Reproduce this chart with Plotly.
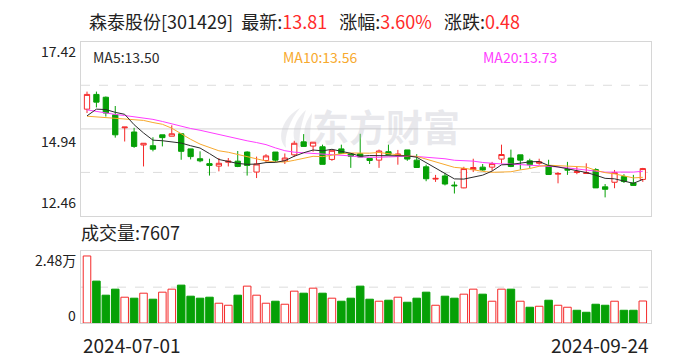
import plotly.graph_objects as go
import pandas as pd

# ---------------- data ----------------
stock_name = "森泰股份"
stock_code = "301429"
date_labels = ["2024-07-01", "2024-09-24"]

opens = [15.50, 15.92, 15.84, 15.34, 14.97, 14.85, 14.48, 14.46, 14.77, 14.73,
         14.80, 14.37, 14.09, 13.95, 13.88, 13.99, 14.02, 14.28, 13.71, 14.04,
         14.28, 14.03, 14.20, 14.57, 14.45, 14.43, 14.07, 14.37, 14.23, 14.23,
         14.10, 14.05, 14.29, 14.19, 14.34, 14.05, 13.86, 13.51, 13.60, 13.34,
         13.26, 13.78, 13.85, 13.85, 14.08, 14.11, 14.20, 14.03, 13.96, 13.89,
         13.65, 13.78, 13.70, 13.67, 13.78, 13.29, 13.42, 13.58, 13.40, 13.50]
highs = [16.00, 16.00, 15.86, 15.59, 14.99, 14.97, 14.53, 14.70, 14.77, 15.04,
         14.80, 14.37, 14.30, 14.09, 14.11, 14.11, 14.31, 14.30, 14.15, 14.22,
         14.28, 14.24, 14.60, 14.79, 14.56, 14.49, 14.33, 14.49, 14.23, 14.80,
         14.10, 14.35, 14.49, 14.34, 14.34, 14.22, 13.92, 13.63, 13.68, 13.44,
         13.86, 14.09, 13.94, 14.00, 14.49, 14.35, 14.20, 14.09, 14.09, 14.06,
         13.71, 14.00, 13.86, 13.96, 13.82, 13.37, 13.77, 13.65, 13.63, 13.83]
lows = [15.39, 15.55, 15.29, 14.69, 14.58, 14.40, 13.87, 14.30, 14.44, 14.73,
        14.06, 14.07, 13.99, 13.61, 13.73, 13.87, 13.85, 13.61, 13.54, 13.99,
        13.99, 13.94, 14.14, 14.44, 14.29, 13.93, 14.03, 14.24, 13.83, 14.14,
        13.94, 13.83, 14.21, 13.92, 14.03, 13.84, 13.45, 13.43, 13.33, 13.10,
        13.25, 13.71, 13.75, 13.75, 13.95, 13.85, 13.78, 13.83, 13.92, 13.64,
        13.39, 13.63, 13.65, 13.68, 13.26, 12.99, 13.25, 13.40, 13.33, 13.43]
closes = [15.92, 15.70, 15.39, 14.77, 14.99, 14.44, 14.53, 14.36, 14.69, 14.80,
          14.30, 14.15, 14.03, 13.90, 13.96, 14.02, 13.87, 13.90, 13.94, 14.17,
          14.05, 14.11, 14.53, 14.44, 14.56, 13.93, 14.33, 14.24, 14.16, 14.14,
          14.04, 14.31, 14.21, 14.22, 14.08, 13.84, 13.52, 13.53, 13.37, 13.32,
          13.81, 13.84, 13.77, 13.95, 14.21, 13.87, 14.05, 13.92, 14.00, 13.64,
          13.67, 13.77, 13.72, 13.69, 13.26, 13.22, 13.70, 13.44, 13.33, 13.81]
volumes = [23180, 14490, 9620, 11700, 8920, 8580, 10310, 8230, 10660, 11700,
           13100, 9270, 8580, 8920, 6840, 6140, 9620, 12750, 9620, 6840,
           7530, 6490, 11010, 10310, 12050, 10310, 8580, 7530, 8580, 12750,
           8230, 7530, 7880, 8920, 7180, 8580, 10660, 6140, 9270, 8580,
           9970, 11700, 9970, 7530, 11700, 11700, 7530, 5450, 5790, 7880,
           6140, 5450, 4400, 3710, 6490, 6140, 7530, 4400, 4400, 7607]
ma5_head = [15.31, 15.50, 15.49, 15.41]
ma10_head = [15.30, 15.28, 15.26, 15.24, 15.22, 15.20, 15.18, 15.12, 15.07]
ma20_head = [15.48, 15.43, 15.39, 15.35, 15.32, 15.29, 15.25, 15.21, 15.15, 15.08,
             15.01, 14.95, 14.90, 14.84, 14.77, 14.70, 14.65, 14.60, 14.55]
price_range = [12.46, 17.42]
vol_max = 24800

# ---------------- derived ----------------
n = len(closes)
idx = list(range(n))
cs = pd.Series(closes)


def ma(win, head):
    r = cs.rolling(win).mean().tolist()
    return head + r[len(head):]


ma5 = ma(5, ma5_head)
ma10 = ma(10, ma10_head)
ma20 = ma(20, ma20_head)

RED = "#f52a2a"
GREEN = "#06a006"
C_MA5 = "#2b2b2b"
C_MA10 = "#f7a92e"
C_MA20 = "#ff3cff"
BORDER = "#d6d6d6"
FONT = "Microsoft YaHei, Noto Sans CJK SC, sans-serif"
W, H = 688, 360

vol_up = [True] + [closes[i] >= closes[i - 1] for i in range(1, n)]
vol_fill = ["white" if u else GREEN for u in vol_up]
vol_line = [RED if u else GREEN for u in vol_up]

fig = go.Figure()
fig.add_trace(go.Candlestick(
    x=idx, open=opens, high=highs, low=lows, close=closes,
    increasing=dict(line=dict(color=RED, width=1), fillcolor="white"),
    decreasing=dict(line=dict(color=GREEN, width=1), fillcolor=GREEN),
    whiskerwidth=0, xaxis="x", yaxis="y", hoverinfo="skip", showlegend=False))
for vals, col in [(ma20, C_MA20), (ma10, C_MA10), (ma5, C_MA5)]:
    fig.add_trace(go.Scatter(x=idx, y=vals, mode="lines",
                             line=dict(color=col, width=1),
                             xaxis="x", yaxis="y", hoverinfo="skip", showlegend=False))
fig.add_trace(go.Bar(x=idx, y=volumes, width=0.8,
                     marker=dict(color=vol_fill, line=dict(color=vol_line, width=1)),
                     xaxis="x2", yaxis="y2", hoverinfo="skip", showlegend=False))

xdom = [81 / W, 651 / W]
xr = [-0.637, n - 1 + 0.87]

axis_common = dict(showgrid=False, zeroline=False, showticklabels=False, ticks="",
                   showline=True, linecolor=BORDER, linewidth=1, mirror=True, fixedrange=True)

shapes = []
lo, hi = price_range
step = (hi - lo) / 4
for k in (1, 2, 3):
    shapes.append(dict(type="line", xref="x domain", yref="y", x0=0, x1=1,
                       y0=lo + k * step, y1=lo + k * step, layer="below",
                       line=dict(color="#dcdcdc", width=1.2 if k == 2 else 1,
                                 dash="solid" if k == 2 else "dash")))
shapes.append(dict(type="line", xref="x2 domain", yref="y2", x0=0, x1=1,
                   y0=vol_max / 2, y1=vol_max / 2, layer="below",
                   line=dict(color="#dcdcdc", width=1, dash="dash")))


# watermark logo (decorative swoosh), drawn in pixel space then mapped to paper
def px_path(pts):
    s = ""
    for cmd, coords in pts:
        s += cmd + " ".join(f"{x / W:.5f},{1 - y / H:.5f}" for x, y in coords) + " "
    return s + "Z"


logo_col = "rgba(200,200,208,0.35)"
for path in [
    [("M", [(300, 108)]), ("C", [(282, 118), (276, 138), (286, 148)]),
     ("C", [(284, 136), (290, 120), (300, 108)])],
    [("M", [(306, 110)]), ("C", [(292, 122), (290, 140), (300, 148)]),
     ("C", [(298, 136), (302, 122), (306, 110)])],
    [("M", [(312, 113)]), ("C", [(302, 126), (302, 140), (311, 147)]),
     ("C", [(309, 136), (311, 124), (312, 113)])],
]:
    shapes.append(dict(type="path", xref="paper", yref="paper", path=px_path(path),
                       fillcolor=logo_col, line=dict(width=0), layer="below"))


def fmt_wan(v):
    return f"{v / 10000:.2f}万"


last = closes[-1]
chg = closes[-1] - closes[-2]
pct = chg / closes[-2] * 100
red_span = lambda s: f"<span style='color:#ff2a2a'>{s}</span>"
gap = "\u00a0\u00a0\u00a0"
title = (f"{stock_name}[{stock_code}]\u00a0\u00a0最新:{red_span(f'{last:.2f}')}{gap}"
         f"涨幅:{red_span(f'{pct:.2f}%')}{gap}涨跌:{red_span(f'{chg:.2f}')}")

ann = []
ann.append(dict(text=title, xref="paper", yref="paper", x=87 / W, y=1 - 21 / H,
                xanchor="left", yanchor="middle", showarrow=False,
                font=dict(family=FONT, size=18, color="#222")))
# watermark
ann.append(dict(text="<b>东方财富</b>", xref="paper", yref="paper", x=386 / W, y=1 - 126 / H,
                xanchor="center", yanchor="middle", showarrow=False,
                font=dict(family=FONT, size=37, color="rgba(190,190,200,0.35)")))
# MA legend
ann += [
    dict(text=f"MA5:{ma5[-1]:.2f}", x=91 / W, y=1 - 57 / H, font=dict(color=C_MA5)),
    dict(text=f"MA10:{ma10[-1]:.2f}", x=281 / W, y=1 - 57 / H, font=dict(color=C_MA10)),
    dict(text=f"MA20:{ma20[-1]:.2f}", x=481 / W, y=1 - 57 / H, font=dict(color=C_MA20)),
]
for a in ann[-3:]:
    a.update(xref="paper", yref="paper", xanchor="left", yanchor="middle", showarrow=False)
    a["font"].update(family=FONT, size=14)
# price axis labels
for val, anchor, sh in [(hi, "top", 3), (lo + 2 * step, "top", 0), (lo, "bottom", 2)]:
    ann.append(dict(text=f"{val:.2f}", xref="paper", yref="y", x=78 / W, y=val,
                    xanchor="right", yanchor=anchor, showarrow=False, yshift=sh,
                    font=dict(family=FONT, size=14, color="#222")))
# volume labels
ann.append(dict(text=f"成交量:{volumes[-1]}", xref="paper", yref="paper", x=79 / W, y=1 - 232 / H,
                xanchor="left", yanchor="middle", showarrow=False,
                font=dict(family=FONT, size=18, color="#222")))
ann.append(dict(text=fmt_wan(vol_max), xref="paper", yref="y2", x=78 / W, y=vol_max,
                xanchor="right", yanchor="top", showarrow=False, yshift=3,
                font=dict(family=FONT, size=14, color="#222")))
ann.append(dict(text="0", xref="paper", yref="y2", x=78 / W, y=0,
                xanchor="right", yanchor="bottom", showarrow=False, yshift=-4,
                font=dict(family=FONT, size=14, color="#222")))
# date labels
ann.append(dict(text=date_labels[0], xref="x2 domain", yref="paper", x=0, y=1 - 344 / H,
                xanchor="left", yanchor="middle", showarrow=False,
                font=dict(family=FONT, size=19, color="#222")))
ann.append(dict(text=date_labels[1], xref="x2 domain", yref="paper", x=1, y=1 - 344 / H,
                xanchor="right", yanchor="middle", showarrow=False,
                font=dict(family=FONT, size=19, color="#222")))

fig.update_layout(
    width=W, height=H, margin=dict(l=0, r=0, t=0, b=0),
    paper_bgcolor="white", plot_bgcolor="white",
    xaxis=dict(domain=xdom, range=xr, anchor="y", rangeslider=dict(visible=False), **axis_common),
    yaxis=dict(domain=[1 - 216 / H, 1 - 41.7 / H], range=price_range, anchor="x", **axis_common),
    xaxis2=dict(domain=xdom, range=xr, anchor="y2", **axis_common),
    yaxis2=dict(domain=[1 - 323 / H, 1 - 251.3 / H], range=[0, vol_max], anchor="x2", **axis_common),
    boxgap=0.2, bargap=0.2,
    shapes=shapes, annotations=ann,
)

fig.write_html("out.html", config={"displayModeBar": False})
